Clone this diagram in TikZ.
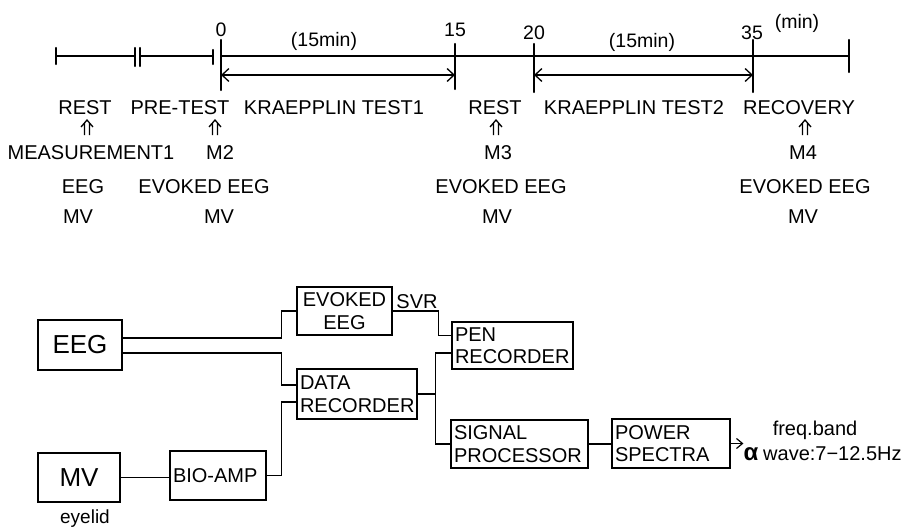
\documentclass[tikz,border=0pt]{standalone}
\usepackage{fontspec}
\setmainfont{Liberation Sans}
\usetikzlibrary{arrows.meta,calc}
\begin{document}
\begin{tikzpicture}[x=1pt,y=-1pt,
  lbl/.style={anchor=base,inner sep=0pt,font=\fontsize{20}{24}\selectfont},
  num/.style={anchor=base,inner sep=0pt,font=\fontsize{19.5}{22}\selectfont},
  tl/.style={line width=2pt},
  tickmark/.style={line width=2.4pt,line cap=round},
  dimline/.style={line width=1.3pt,{Straight Barb[length=7pt,width=13pt]}-{Straight Barb[length=7pt,width=13pt]}},
  box/.style={draw,line width=1.2pt,inner xsep=3pt,inner ysep=0pt,align=left,font=\fontsize{20}{22.5}\selectfont},
  wire/.style={line width=1.2pt},
  uparr/.pic={\draw[line width=1.3pt] (-2.5,7) -- (-2.5,-5) (2.5,7) -- (2.5,-5) (-6,-1) -- (0,-8) -- (6,-1);}
]
\useasboundingbox (0,0) rectangle (913,527);

% ---------- time line ----------
\coordinate (a0) at (56,56);
\coordinate (a1) at (135,56);
\coordinate (a2) at (140,56);
\coordinate (a3) at (213,56);
\coordinate (a4) at (221,56);
\coordinate (a5) at (849,56);
\draw[tl] (a0) -- (a1);
\draw[tl] (a2) -- (a3);
\draw[tl] (a4) -- (a5);
\draw[tickmark] (56,48) -- (56,64);
\draw[tickmark] (135,48) -- (135,66);
\draw[tickmark] (140,48) -- (140,66);
\draw[tickmark] (213,50) -- (213,64);
\draw[tickmark] (221,40) -- (221,90);
\draw[tickmark] (455,44) -- (455,89);
\draw[tickmark] (534,44) -- (534,92);
\draw[tickmark] (753,40) -- (753,92);
\draw[tickmark] (849,40) -- (849,72);

\coordinate (t0) at (221,75);
\coordinate (t15) at (455,75);
\coordinate (t20) at (534,75);
\coordinate (t35) at (753,75);
\draw[dimline] (t0) -- (t15);
\draw[dimline] (t20) -- (t35);

\node[num] (n0) at (221,37) {0};
\node[num] (n15) at (455,37) {15};
\node[num] (n20) at (534,40) {20};
\node[num] (n35) at (752,40) {35};
\node[num] (nmin) at (797,29) {(min)};
\node[num] (d1) at (324,47) {(15min)};
\node[num] (d2) at (642,48) {(15min)};

% phase labels
\node[lbl] (p1) at (85,114) {REST};
\node[lbl] (p2) at (180,114) {PRE-TEST};
\node[lbl] (p3) at (334,114) {KRAEPPLIN TEST1};
\node[lbl] (p4) at (495,114) {REST};
\node[lbl] (p5) at (634,114) {KRAEPPLIN TEST2};
\node[lbl] (p6) at (799,114) {RECOVERY};

% arrows
\pic at (87,128) {uparr};
\pic at (215,128) {uparr};
\pic at (496,128) {uparr};
\pic at (805,128) {uparr};

% measurement labels
\node[lbl] (m1) at (91,159) {MEASUREMENT1};
\node[lbl] (m2) at (220,159) {M2};
\node[lbl] (m3) at (498,159) {M3};
\node[lbl] (m4) at (803,159) {M4};
\node[lbl] (e1) at (83,193) {EEG};
\node[lbl] (e2) at (204,193) {EVOKED EEG};
\node[lbl] (e3) at (501,193) {EVOKED EEG};
\node[lbl] (e4) at (805,193) {EVOKED EEG};
\node[lbl] (v1) at (78,223) {MV};
\node[lbl] (v2) at (219,223) {MV};
\node[lbl] (v3) at (497,223) {MV};
\node[lbl] (v4) at (803,223) {MV};

% ---------- block diagram ----------
\node[box,align=center,minimum width=84pt,minimum height=50pt,font=\fontsize{26}{28}\selectfont] (eeg) at (80,345) {EEG};
\node[box,align=center,minimum width=82pt,minimum height=49pt,font=\fontsize{26}{28}\selectfont] (mv) at (79,477.5) {MV};
\node[lbl,font=\fontsize{19}{22}\selectfont] (eyelid) at (85,523) {eyelid};

\node[box,align=center,minimum width=95pt,minimum height=48pt] (ev) at (344.5,311) {EVOKED\\EEG};
\node[box,minimum width=120pt,minimum height=50pt,text width=114pt] (dr) at (357,394) {DATA\\RECORDER};
\node[box,minimum width=121pt,minimum height=47pt,text width=115pt] (pen) at (512.5,345.5) {PEN\\RECORDER};
\node[box,minimum width=137pt,minimum height=48pt,text width=131pt] (sp) at (519.5,444) {SIGNAL\\PROCESSOR};
\node[box,minimum width=118pt,minimum height=49pt,text width=112pt] (pw) at (671,443.5) {POWER\\SPECTRA};
\node[box,minimum width=96pt,minimum height=49pt,text width=90pt] (ba) at (218,475.5) {BIO-AMP};

\node[lbl] (svr) at (417,308) {SVR};
\node[lbl] (fb) at (815,435) {freq.band};
\node[anchor=base,inner sep=0pt,font=\fontsize{24}{24}\selectfont\bfseries] (alpha) at (751,460) {α};
\node[lbl,anchor=base west] (wave) at (763,460) {wave:7−12.5Hz};

% wires
\draw[wire] ([yshift=7pt]eeg.east) -| ([xshift=-15pt]ev.west) -- (ev.west);
\draw[wire] ([yshift=-8pt]eeg.east) -| ([xshift=-15pt,yshift=9pt]dr.west) -- ([yshift=9pt]dr.west);
\draw[wire] (ba.east) -| ([xshift=-15pt,yshift=-8pt]dr.west) -- ([yshift=-8pt]dr.west);
\draw[wire] (mv.east) -- (mv.east -| ba.west);
\draw[wire] (ev.east) -| ([xshift=-13pt,yshift=10pt]pen.west) -- ([yshift=10pt]pen.west);
\coordinate (j) at ([xshift=-15pt]sp.west |- dr.east);
\draw[wire] (dr.east) -- (j);
\draw[wire] ([yshift=-7.5pt]pen.west) -| (j) |- (sp.west);
\draw[wire] (sp.east) -- (sp.east -| pw.west);
\draw[wire,-{Straight Barb[length=6pt,width=10pt]}] (pw.east) -- (pw.east -| alpha.west);
\end{tikzpicture}
\end{document}
